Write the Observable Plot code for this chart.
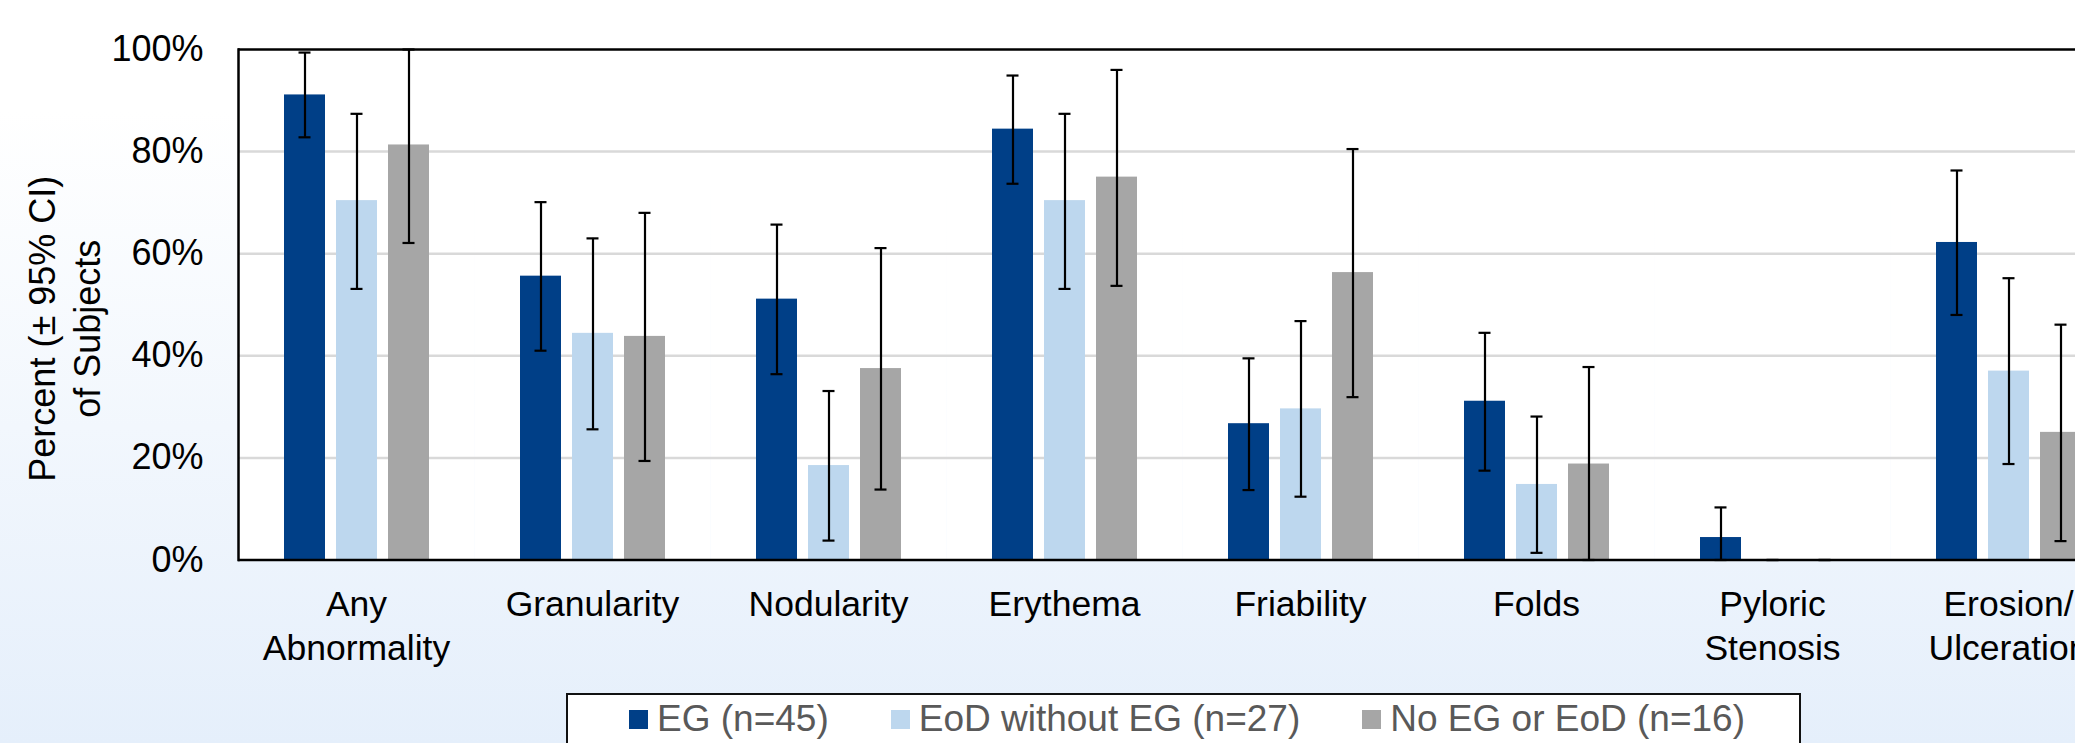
<!DOCTYPE html>
<html>
<head>
<meta charset="utf-8">
<script src="https://cdn.jsdelivr.net/npm/d3@7"></script>
<script src="https://cdn.jsdelivr.net/npm/@observablehq/plot@0.6"></script>
<style>
html, body { margin: 0; padding: 0; width: 2075px; height: 743px; overflow: hidden; }
body {
  position: relative;
  background: linear-gradient(180deg, #ffffff 15%, #e5effb 100%);
  font-family: "Liberation Sans", Arial, sans-serif;
}
#chart { position: absolute; left: 0; top: 0; width: 2146px; }
#chart svg { max-width: none !important; }
#legend {
  position: absolute; left: 566px; top: 693px; width: 1235px; height: 70px;
  box-sizing: border-box; border: 2px solid #111; background: #fff;
  display: flex; align-items: center; padding-left: 61px; padding-bottom: 18px;
  color: #595959; font-size: 37px; line-height: 36px; white-space: nowrap;
}
.item { display: flex; align-items: center; margin-right: 62px; }
.sw { width: 19px; height: 19px; margin-right: 9px; display: inline-block; }
</style>
</head>
<body>
<div id="chart"></div>
<div id="legend"></div>
<script>
const categories = ["Any\nAbnormality", "Granularity", "Nodularity", "Erythema", "Friability", "Folds", "Pyloric\nStenosis", "Erosion/\nUlceration"];
const series = ["EG (n=45)", "EoD without EG (n=27)", "No EG or EoD (n=16)"];
const colors = ["#003f87", "#bdd7ee", "#a6a6a6"];
const yTicks = [0, 20, 40, 60, 80, 100];
const yTitle = "Percent (\u00b1 95% CI)\nof Subjects";

const egPct  = [91.1, 55.6, 51.1, 84.4, 26.7, 31.1, 4.4, 62.2];
const egLo   = [82.8, 41.0, 36.4, 73.7, 13.7, 17.5, 0.0, 48.0];
const egHi   = [99.4, 70.1, 65.7, 94.9, 39.5, 44.5, 10.3, 76.3];
const eodPct = [70.4, 44.4, 18.5, 70.4, 29.6, 14.8, 0.0, 37.0];
const eodLo  = [53.1, 25.6, 3.8, 53.1, 12.4, 1.4, 0.0, 18.8];
const eodHi  = [87.4, 63.0, 33.1, 87.4, 46.8, 28.1, 0.0, 55.2];
const noPct  = [81.3, 43.8, 37.5, 75.0, 56.3, 18.8, 0.0, 25.0];
const noLo   = [62.1, 19.4, 13.8, 53.7, 31.9, 0.0, 0.0, 3.7];
const noHi   = [100.0, 68.0, 61.1, 96.0, 80.5, 37.8, 0.0, 46.1];

const seriesData = [[egPct, egLo, egHi], [eodPct, eodLo, eodHi], [noPct, noLo, noHi]];
const rows = [];
categories.forEach((c, i) => {
  series.forEach((s, j) => {
    rows.push({category: c, series: s, value: seriesData[j][0][i], lo: seriesData[j][1][i], hi: seriesData[j][2][i]});
  });
});

const chart = Plot.plot({
  width: 2146,
  height: 690,
  marginLeft: 238,
  marginRight: 20,
  marginTop: 49,
  marginBottom: 130.5,
  style: {background: "transparent", fontFamily: "'Liberation Sans', Arial, sans-serif", color: "#000", overflow: "visible", maxWidth: "none"},
  fx: {domain: categories, padding: 0, label: null},
  x: {domain: series, paddingInner: 0.212, paddingOuter: 0.875, axis: null},
  y: {domain: [0, 100], label: null},
  color: {domain: series, range: colors},
  marks: [
    Plot.frame({fill: "white", stroke: null}),
    Plot.gridY([20, 40, 60, 80], {stroke: "#d9d9d9", strokeOpacity: 1, strokeWidth: 2.5}),
    Plot.barY(rows, {fx: "category", x: "series", y: "value", fill: "series"}),
    Plot.ruleX(rows, {fx: "category", x: "series", y1: "lo", y2: "hi", stroke: "#000", strokeWidth: 2.2}),
    Plot.tickY(rows, {fx: "category", x: "series", y: "lo", stroke: "#000", strokeWidth: 2.2, insetLeft: 14.5, insetRight: 14.5}),
    Plot.tickY(rows, {fx: "category", x: "series", y: "hi", stroke: "#000", strokeWidth: 2.2, insetLeft: 14.5, insetRight: 14.5}),
    Plot.ruleY([0, 100], {stroke: "#000", strokeWidth: 2.5}),
    Plot.frame({anchor: "left", facetAnchor: "left", stroke: "#000", strokeWidth: 2.5}),
    Plot.axisY({ticks: yTicks, tickFormat: d => d + "%", tickSize: 0, tickPadding: 35, fontSize: 36, label: null}),
    Plot.axisFx({anchor: "bottom", tickSize: 0, tickPadding: 24, fontSize: 35.5, lineHeight: 1.25, label: null}),
    Plot.text([yTitle], {frameAnchor: "left", facetAnchor: "left", text: d => d, rotate: -90, dx: -175.5, dy: 24,
      fontSize: 36, lineHeight: 1.25, lineAnchor: "middle", textAnchor: "middle", fill: "#000"})
  ]
});
document.getElementById("chart").appendChild(chart);

const legend = document.getElementById("legend");
series.forEach((s, j) => {
  const item = document.createElement("div");
  item.className = "item";
  const sw = document.createElement("span");
  sw.className = "sw";
  sw.style.background = colors[j];
  const label = document.createElement("span");
  label.textContent = s;
  item.appendChild(sw);
  item.appendChild(label);
  legend.appendChild(item);
});
</script>
</body>
</html>
